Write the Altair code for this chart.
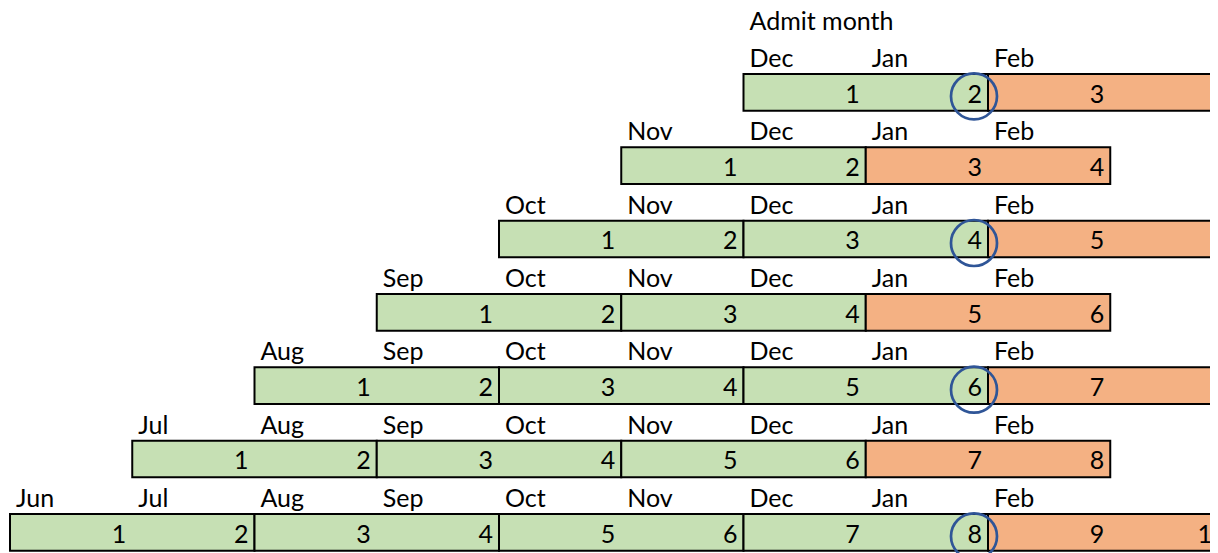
import altair as alt
import pandas as pd

# ---- data ----
months = ["Jun", "Jul", "Aug", "Sep", "Oct", "Nov", "Dec", "Jan", "Feb", "Mar", "Apr"]
admit_months = ["Dec", "Nov", "Oct", "Sep", "Aug", "Jul", "Jun"]   # rows, top to bottom
green_months = [2, 2, 4, 4, 6, 6, 8]      # months counted in green per row
orange_months = [2, 2, 2, 2, 2, 2, 2]     # months counted in orange per row
circled_cell = [2, 0, 4, 0, 6, 0, 8]      # number circled in each row (0 = none)
last_label = "Feb"
title_text = "Admit month"

GREEN = "#C6E0B4"
ORANGE = "#F4B183"
CIRCLE = "#2F5597"
FONT = "Lato"
FS = 25

boxes, nums, labels, circles = [], [], [], []
for r, adm in enumerate(admit_months):
    start = months.index(adm)
    n_cells = green_months[r] + orange_months[r]
    bar_k = 2 * r + 2
    for i in range(1, n_cells + 1):
        c = start + i - 1
        kind = "green" if i <= green_months[r] else "orange"
        if i % 2 == 1:
            boxes.append({"x": c, "x2": c + 2, "y": bar_k, "y2": bar_k + 1, "kind": kind})
        nums.append({"x": c + 1, "y": bar_k + 1, "t": str(i)})
        if i == circled_cell[r]:
            circles.append({"x": c + 1, "y": bar_k + 0.5})
    for c in range(start, months.index(last_label) + 1):
        labels.append({"x": c, "y": bar_k, "t": months[c]})
labels.append({"x": months.index(admit_months[0]), "y": 1, "t": title_text})

xs = alt.Scale(domain=[0, 10], range=[2, 1224.5])
ys = alt.Scale(domain=[0, 15], range=[-7.33, 542.67])

box_layer = alt.Chart(pd.DataFrame(boxes)).mark_rect(
    stroke="black", strokeWidth=2, clip=True
).encode(
    x=alt.X("x:Q", scale=xs, axis=None),
    x2="x2:Q",
    y=alt.Y("y:Q", scale=ys, axis=None),
    y2="y2:Q",
    color=alt.Color("kind:N", scale=alt.Scale(domain=["green", "orange"], range=[GREEN, ORANGE]), legend=None),
)

num_layer = alt.Chart(pd.DataFrame(nums)).mark_text(
    align="right", baseline="alphabetic", dx=-6, dy=-8, font=FONT, fontSize=FS, color="black", clip=True
).encode(
    x=alt.X("x:Q", scale=xs, axis=None),
    y=alt.Y("y:Q", scale=ys, axis=None),
    text="t:N",
)

label_layer = alt.Chart(pd.DataFrame(labels)).mark_text(
    align="left", baseline="alphabetic", dx=6, dy=-7, font=FONT, fontSize=FS, color="black", clip=True
).encode(
    x=alt.X("x:Q", scale=xs, axis=None),
    y=alt.Y("y:Q", scale=ys, axis=None),
    text="t:N",
)

circle_layer = alt.Chart(pd.DataFrame(circles)).mark_point(
    shape="circle", size=2116, filled=False, stroke=CIRCLE, strokeWidth=2.7, opacity=1,
    xOffset=-14, yOffset=4, clip=True
).encode(
    x=alt.X("x:Q", scale=xs, axis=None),
    y=alt.Y("y:Q", scale=ys, axis=None),
)

chart = alt.layer(box_layer, num_layer, label_layer, circle_layer).properties(
    width=1202, height=545, autosize=alt.AutoSizeParams(type="none"), padding=0
).configure_view(stroke=None)

chart.save("out.html", embed_options={"renderer": "svg", "actions": False})
